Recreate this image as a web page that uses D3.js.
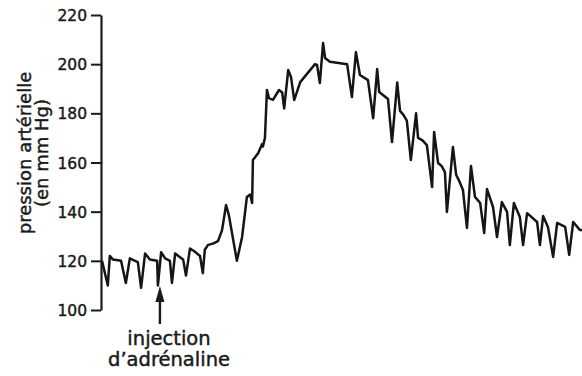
<!DOCTYPE html>
<html>
<head>
<meta charset="utf-8">
<script src="https://cdn.jsdelivr.net/npm/d3@7"></script>
<style>
  body { margin: 0; background: #fff; }
  svg text { font-family: "DejaVu Sans", sans-serif; fill: #1a1a1a; stroke: #1a1a1a; stroke-width: 0.45px; }
</style>
</head>
<body>
<div id="chart"></div>
<script>
// time (arbitrary units, no axis shown) and arterial pressure (mm Hg)
const time = [0.25, 1.7, 2.2, 3.0, 5.0, 6.2, 7.2, 8.5, 9.2, 10.0, 11.0, 12.2, 14.0, 14.2, 15.0, 16.0, 17.2, 17.7, 18.5, 19.7,
  20.5, 21.2, 22.2, 23.2, 24.7, 25.4, 25.9, 26.7, 27.9, 29.2, 30.2, 31.2, 31.9, 33.9, 35.2, 36.4, 37.2, 37.7, 37.9, 39.2,
  40.2, 40.4, 40.9, 41.4, 41.9, 42.9, 44.4, 45.2, 45.7, 46.7, 47.4, 48.2, 49.7, 53.4, 53.9, 54.6, 55.4, 55.9, 57.1, 61.4,
  62.6, 63.6, 64.6, 66.6, 67.9, 68.9, 69.4, 71.6, 72.6, 73.9, 74.6, 75.4, 76.3, 77.3, 78.6, 79.1, 80.2, 81.3, 82.6, 83.1,
  84.1, 85.0, 85.8, 86.3, 87.8, 88.6, 89.5, 90.3, 91.3, 92.3, 93.3, 94.6, 95.6, 96.3, 97.8, 98.8, 100.0, 101.3, 102.0, 103.0,
  104.5, 105.3, 106.3, 108.8, 109.5, 110.3, 111.5, 112.8, 113.8, 115.8, 116.8, 117.8, 119.5, 120];
const pressure = [120, 110, 122, 120.5, 120, 111, 121, 120, 119.5, 109, 123, 120.5, 120, 110, 123.5, 121, 120, 111, 123, 121.5,
  120.5, 114, 125, 124, 122, 115, 124.5, 126.5, 127, 128, 132.5, 142.7, 138.6, 120, 129.7, 146, 147, 143.5, 161, 163.8,
  167.5, 166.5, 170, 189.5, 186.2, 185.5, 189.5, 188.5, 182, 197.6, 194.8, 185.4, 192.7, 200, 199.7, 192.3, 208.6, 202.5, 201, 200,
  186.6, 204.9, 195.6, 193.5, 178, 198, 188.7, 185.8, 168.3, 192.5, 181, 179.5, 177, 161, 180, 170, 169, 167.1, 150, 172.4,
  159.8, 158.5, 156.1, 139.9, 166.3, 155, 152, 148.8, 133.4, 158.6, 146, 143.5, 131.3, 149.2, 141.9, 129.7, 143.9, 139.9, 126.4, 143.5,
  137.8, 126.4, 139.4, 135.8, 126.4, 138.2, 133.8, 121.6, 135.4, 133.8, 122.4, 135.8, 132.5, 132.5];
const yTicks = [100, 120, 140, 160, 180, 200, 220];
const injectionTime = 14.7;
const yLabel = ["pression artérielle", "(en mm Hg)"];
const noteLines = ["injection", "d\u2019adrénaline"];

let width = 582;
let height = 376;

let svg = d3.select('#chart').append('svg')
  .attr('width', width)
  .attr('height', height);

let x = d3.scaleLinear().domain([0, 120]).range([101, 582]);
let y = d3.scaleLinear().domain([100, 220]).range([310, 15]);

// y axis
let axis = svg.append('g')
  .attr('transform', 'translate(101,0)')
  .call(d3.axisLeft(y).tickValues(yTicks).tickSize(10).tickSizeOuter(0).tickPadding(4));
axis.select('.domain').attr('stroke', '#1a1a1a').attr('stroke-width', 2.2);
axis.selectAll('.tick line').attr('stroke', '#1a1a1a').attr('stroke-width', 2);
axis.selectAll('.tick text')
  .attr('font-size', 15.5)
  .attr('dy', '0.36em')
  .style('font-family', '"DejaVu Sans", sans-serif')
  .attr('fill', '#1a1a1a');

// axis title, two rotated lines
svg.append('g')
  .attr('transform', 'translate(0,153) rotate(-90)')
  .selectAll('text')
  .data(yLabel)
  .enter()
  .append('text')
  .attr('x', 0)
  .attr('y', (d, i) => 31 + i * 17)
  .attr('text-anchor', 'middle')
  .attr('font-size', 18)
  .text(d => d);

// pressure trace
let points = time.map((t, i) => [t, pressure[i]]);
svg.append('path')
  .datum(points)
  .attr('d', d3.line().x(d => x(d[0])).y(d => y(d[1])))
  .attr('fill', 'none')
  .attr('stroke', '#151515')
  .attr('stroke-width', 2.5)
  .attr('stroke-linejoin', 'round');

// injection arrow
let ax = x(injectionTime);
svg.append('line')
  .attr('x1', ax).attr('x2', ax)
  .attr('y1', 298).attr('y2', 324)
  .attr('stroke', '#1a1a1a')
  .attr('stroke-width', 2.4);
svg.append('path')
  .attr('d', `M${ax},286 L${ax - 4.5},302 L${ax + 4.5},302 Z`)
  .attr('fill', '#1a1a1a');

svg.selectAll('.note')
  .data(noteLines)
  .enter()
  .append('text')
  .attr('class', 'note')
  .attr('x', 169)
  .attr('y', (d, i) => 345 + i * 21)
  .attr('text-anchor', 'middle')
  .attr('font-size', 19.5)
  .text(d => d);
</script>
</body>
</html>
